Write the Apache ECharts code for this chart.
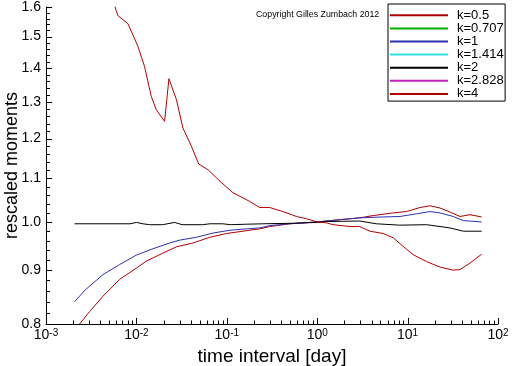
<!DOCTYPE html>
<html>
<head>
<meta charset="utf-8">
<script src="https://cdn.jsdelivr.net/npm/echarts@6/dist/echarts.min.js"></script>
<style>
html,body{margin:0;padding:0;background:#fff;}
#c{width:512px;height:366px;}
</style>
</head>
<body>
<div id="c"></div>
<script>
// ---- data ----
const seriesNames = ['k=0.5', 'k=0.707', 'k=1', 'k=1.414', 'k=2', 'k=2.828', 'k=4'];

const k05X = [0.00207, 0.00235, 0.00304, 0.00426, 0.00652, 0.00998, 0.0129, 0.0196, 0.0277, 0.0423, 0.0647, 0.0991, 0.151, 0.231, 0.299, 0.498, 1, 1.79, 2.96, 4.16, 6.92, 9.75, 13.7, 17.7, 22.8, 29.4, 37.9, 49.0, 65.9];
const k05Y = [0.789, 0.800, 0.822, 0.850, 0.882, 0.904, 0.918, 0.934, 0.947, 0.955, 0.967, 0.975, 0.980, 0.985, 0.990, 0.996, 1.000, 1.005, 1.009, 1.014, 1.020, 1.023, 1.032, 1.036, 1.031, 1.022, 1.012, 1.016, 1.011];

const k1X = [0.00207, 0.00272, 0.00426, 0.00652, 0.00998, 0.0152, 0.0233, 0.0301, 0.0460, 0.0703, 0.108, 0.165, 0.231, 0.299, 0.498, 1, 1.79, 2.96, 5.37, 8.22, 12.6, 17.7, 22.8, 32.0, 41.3, 65.9];
const k1Y = [0.840, 0.862, 0.891, 0.911, 0.930, 0.943, 0.955, 0.961, 0.967, 0.976, 0.982, 0.985, 0.987, 0.992, 0.996, 1.000, 1.005, 1.009, 1.011, 1.012, 1.018, 1.023, 1.020, 1.012, 1.003, 1.000];

const k2X = [0.00207, 0.0085, 0.0100, 0.0118, 0.0140, 0.0195, 0.0265, 0.0320, 0.0540, 0.0650, 0.0900, 0.110, 0.160, 0.250, 0.500, 1, 1.27, 2.96, 4.50, 8.20, 16.2, 29.4, 41.3, 65.9];
const k2Y = [0.996, 0.996, 0.999, 0.996, 0.994, 0.994, 0.999, 0.994, 0.994, 0.996, 0.996, 0.994, 0.995, 0.996, 0.997, 0.999, 1.001, 1.002, 0.996, 0.993, 0.994, 0.987, 0.980, 0.980];

const k4X = [0.00578, 0.00624, 0.00805, 0.0104, 0.0123, 0.0146, 0.0166, 0.0205, 0.0229, 0.0277, 0.0327, 0.0406, 0.0489, 0.0619, 0.0871, 0.117, 0.179, 0.231, 0.299, 0.419, 0.590, 0.759, 1, 1.27, 1.50, 2.30, 2.96, 3.83, 5.37, 6.92, 8.93, 11.5, 16.2, 22.8, 32.0, 37.9, 49.0, 65.9];
const k4Y = [1.602, 1.570, 1.543, 1.468, 1.405, 1.316, 1.278, 1.246, 1.368, 1.307, 1.228, 1.180, 1.135, 1.121, 1.090, 1.066, 1.046, 1.032, 1.032, 1.023, 1.012, 1.007, 1.000, 0.998, 0.994, 0.990, 0.990, 0.980, 0.975, 0.966, 0.948, 0.931, 0.917, 0.906, 0.900, 0.901, 0.914, 0.932];

// curves of k=0.707, 1.414, 2.828 are not visible in the picture (legend only)
const emptyX = [];
const emptyY = [];

const yLabelValues = [0.8, 0.9, 1.0, 1.1, 1.2, 1.3, 1.4, 1.5, 1.6];
const yMinorValues = [0.82, 0.84, 0.86, 0.88, 0.92, 0.94, 0.96, 0.98, 1.02, 1.04, 1.06, 1.08, 1.12, 1.14, 1.16, 1.18, 1.22, 1.24, 1.26, 1.28, 1.32, 1.34, 1.36, 1.38, 1.42, 1.44, 1.46, 1.48, 1.52, 1.54, 1.56, 1.58];
const xMajorValues = [0.001, 0.01, 0.1, 1, 10, 100];
const xMinorMultipliers = [2, 3, 4, 5, 6, 7, 8, 9];

const colors = ['#b00000', '#00b000', '#3030b0', '#30e0e0', '#000000', '#c020c0', '#b00000'];

// ---- build options ----
const X_MIN = 0.001, X_MAX = 100, Y_MIN = 0.8, Y_MAX = 1.6;
const MAJOR_LEN = 6, MINOR_LEN_X = 3.5, MINOR_LEN_Y = 4;

function pairs(xs, ys) { return xs.map((x, i) => [x, ys[i]]); }
const xMinorValues = [];
xMajorValues.slice(0, -1).forEach(d => xMinorMultipliers.forEach(m => xMinorValues.push(+(d * m).toPrecision(3))));

const dataSets = [pairs(k05X, k05Y), pairs(emptyX, emptyY), pairs(k1X, k1Y), pairs(emptyX, emptyY), pairs(k2X, k2Y), pairs(emptyX, emptyY), pairs(k4X, k4Y)];

// tick marks: [x, y, length, direction(0 = up from x axis, 1 = right from y axis)]
const tickData = []
  .concat(xMajorValues.map(v => [v, Y_MIN, MAJOR_LEN, 0]))
  .concat(xMinorValues.map(v => [v, Y_MIN, MINOR_LEN_X, 0]))
  .concat(yLabelValues.map(v => [X_MIN, v, MAJOR_LEN, 1]))
  .concat(yMinorValues.map(v => [X_MIN, v, MINOR_LEN_Y, 1]));

const FONT = 'Liberation Sans, Arial, sans-serif';

const lineSeries = seriesNames.map((n, i) => ({
  name: n, type: 'line', data: dataSets[i],
  symbol: 'none', showSymbol: false, smooth: false, clip: true,
  lineStyle: { color: colors[i], width: 1 },
  itemStyle: { color: colors[i] }
}));

const tickSeries = {
  name: '_ticks', type: 'custom', data: tickData, silent: true, clip: false, z: 5,
  renderItem: (params, api) => {
    const p = api.coord([api.value(0), api.value(1)]);
    const len = api.value(2);
    const dir = api.value(3);
    if (dir === 0) {
      const x = Math.round(p[0]) + 0.5, y = Math.round(p[1]);
      return { type: 'line', shape: { x1: x, y1: y, x2: x, y2: y - len }, style: { stroke: '#000', lineWidth: 1 } };
    }
    const x = Math.round(p[0]), y = Math.round(p[1]) + 0.5;
    return { type: 'line', shape: { x1: x, y1: y, x2: x + len, y2: y }, style: { stroke: '#000', lineWidth: 1 } };
  }
};

const chart = echarts.init(document.getElementById('c'), null, { renderer: 'canvas' });
chart.setOption({
  animation: false,
  backgroundColor: '#fff',
  title: {
    text: 'Copyright Gilles Zumbach 2012',
    left: 256, top: 10.5, padding: 0,
    textStyle: { fontFamily: FONT, fontSize: 8.8, fontWeight: 'normal', color: '#000' }
  },
  legend: {
    orient: 'vertical',
    left: 388, top: 4,
    padding: [4.8, 1.5, 0.7, 1],
    itemWidth: 58, itemHeight: 12, itemGap: 0.1,
    borderColor: '#000', borderWidth: 1, backgroundColor: '#fff',
    itemStyle: { opacity: 0 },
    textStyle: { fontFamily: FONT, fontSize: 13, color: '#000', lineHeight: 12, padding: [0, 0, 0, 4] },
    data: seriesNames
  },
  grid: { left: 46, right: 14, top: 7, bottom: 42, containLabel: false, outerBoundsMode: 'none' },
  xAxis: {
    type: 'log', logBase: 10, min: X_MIN, max: X_MAX,
    axisLine: { show: true, onZero: false, lineStyle: { color: '#000', width: 1 } },
    axisTick: { show: false },
    splitLine: { show: false },
    axisLabel: {
      margin: 4, color: '#000', fontFamily: FONT,
      formatter: v => '{b|10}{s|' + Math.round(Math.log10(v)) + '}',
      rich: {
        b: { fontFamily: FONT, fontSize: 14, lineHeight: 14, padding: [3, 0, 0, 0], verticalAlign: 'bottom', color: '#000' },
        s: { fontFamily: FONT, fontSize: 10, lineHeight: 10, verticalAlign: 'top', color: '#000' }
      }
    },
    name: 'time interval [day]', nameLocation: 'middle', nameGap: 19,
    nameTextStyle: { fontFamily: FONT, fontSize: 19, color: '#000', verticalAlign: 'top' }
  },
  yAxis: {
    type: 'log', logBase: 10, min: Y_MIN, max: Y_MAX,
    axisLine: { show: true, onZero: false, lineStyle: { color: '#000', width: 1 } },
    axisTick: { show: false },
    splitLine: { show: false },
    axisLabel: {
      customValues: yLabelValues, margin: 5, color: '#000', fontFamily: FONT, fontSize: 14,
      formatter: v => Number(v).toFixed(1)
    },
    name: 'rescaled moments', nameLocation: 'middle', nameGap: 25, nameRotate: 90, nameMoveOverlap: false,
    nameTextStyle: { fontFamily: FONT, fontSize: 18, color: '#000' }
  },
  series: lineSeries.concat([tickSeries])
});
</script>
</body>
</html>
